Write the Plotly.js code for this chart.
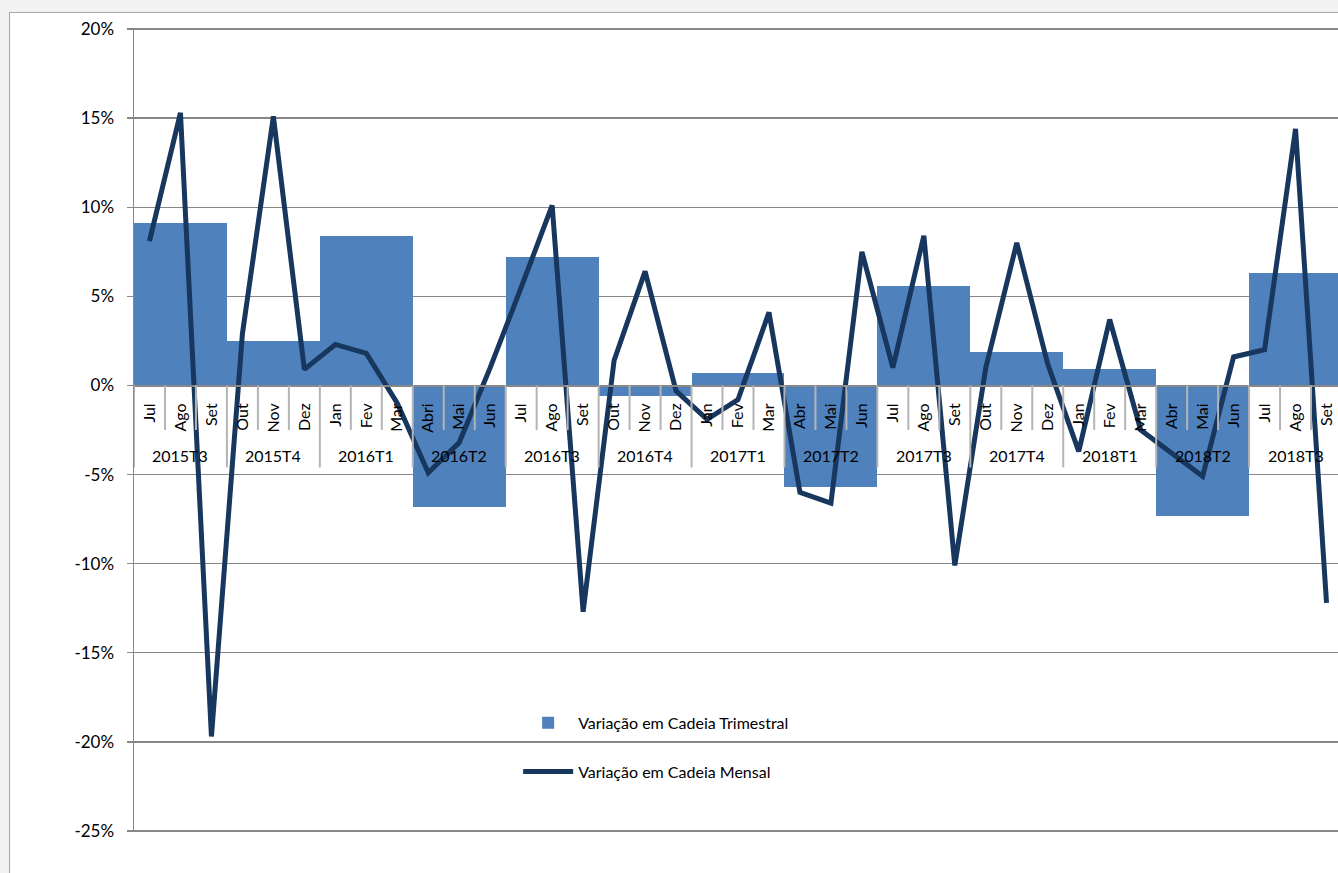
<!DOCTYPE html>
<html>
<head>
<meta charset="utf-8">
<script src="https://cdn.plot.ly/plotly-3.0.1.min.js"></script>
<style>
  html, body { margin: 0; padding: 0; background: #f2f2f2; overflow: hidden; width: 1338px; height: 873px; }
  #frame { position: absolute; left: 9px; top: 12px; width: 1400px; height: 900px; background: #ffffff; border: 1px solid #a6a6a6; }
  #chart { position: absolute; left: 0; top: 0; width: 1400px; height: 873px; }
</style>
</head>
<body>
<div id="frame"></div>
<div id="chart"></div>
<script>
const quarters = ['2015T3','2015T4','2016T1','2016T2','2016T3','2016T4','2017T1','2017T2','2017T3','2017T4','2018T1','2018T2','2018T3'];
const months = ['Jul','Ago','Set','Out','Nov','Dez','Jan','Fev','Mar','Abri','Mai','Jun',
                'Jul','Ago','Set','Out','Nov','Dez','Jan','Fev','Mar','Abr','Mai','Jun',
                'Jul','Ago','Set','Out','Nov','Dez','Jan','Fev','Mar','Abr','Mai','Jun',
                'Jul','Ago','Set'];
const quarterlyChange = [9.1, 2.5, 8.4, -6.8, 7.2, -0.6, 0.7, -5.7, 5.6, 1.9, 0.9, -7.3, 6.3];
const monthlyChange = [8.1, 15.3, -19.7, 2.9, 15.1, 0.9, 2.3, 1.8, -1.0, -4.9, -3.2, 1.0,
                       5.5, 10.1, -12.7, 1.4, 6.4, -0.3, -1.9, -0.8, 4.1, -6.0, -6.6, 7.5,
                       1.0, 8.4, -10.1, 1.0, 8.0, 1.2, -3.7, 3.7, -2.5, -3.8, -5.1, 1.6,
                       2.0, 14.4, -12.2];
const yTickVals = [-25, -20, -15, -10, -5, 0, 5, 10, 15, 20];
const yTickLabels = ['-25%', '-20%', '-15%', '-10%', '-5%', '0%', '5%', '10%', '15%', '20%'];

const monthsPerQuarter = 3;
const monthIdx = months.map((_, i) => i);
const quarterMid = quarters.map((_, q) => q * monthsPerQuarter + 1);

const yMin = -25, yMax = 20;
const rangePad = 0.06;
const gridGrey = '#878787';
const fontFam = 'Lato, "Open Sans", sans-serif';

const traces = [
  {
    type: 'bar',
    name: 'Variação em Cadeia Trimestral',
    x: quarterMid,
    y: quarterlyChange,
    width: quarters.map(() => monthsPerQuarter),
    marker: { color: '#4f81bd', line: { width: 0 } },
    legendgroup: 'a',
    hoverinfo: 'y'
  },
  {
    type: 'scatter',
    mode: 'lines',
    name: 'Variação em Cadeia Mensal',
    x: monthIdx,
    y: monthlyChange,
    line: { color: '#17375e', width: 5, shape: 'linear' },
    legendgroup: 'b',
    hoverinfo: 'y'
  }
];

const shapes = [];
for (let i = 0; i <= months.length; i++) {
  const isQuarter = (i % monthsPerQuarter) === 0;
  shapes.push({
    type: 'line', xref: 'x', yref: 'y',
    x0: i - 0.5, x1: i - 0.5,
    y0: 0, y1: isQuarter ? -4.6 : -2.5,
    line: { color: '#b4b4b4', width: 2 },
    layer: 'above'
  });
}

const annotations = quarters.map((q, k) => ({
  x: quarterMid[k], y: -3.95, xref: 'x', yref: 'y',
  text: q, showarrow: false,
  font: { family: fontFam, size: 16, color: '#000000' }
}));

const layout = {
  width: 1400, height: 873,
  margin: { l: 134, r: 58, t: 28, b: 41, pad: 0 },
  paper_bgcolor: 'rgba(0,0,0,0)',
  plot_bgcolor: '#ffffff',
  font: { family: fontFam, size: 16, color: '#000000' },
  showlegend: true,
  legend: {
    x: 0.318, y: 0.157, xanchor: 'left', yanchor: 'top',
    bgcolor: 'rgba(0,0,0,0)',
    font: { family: fontFam, size: 16, color: '#000000' },
    traceorder: 'grouped', tracegroupgap: 25,
    itemwidth: 50
  },
  bargap: 0,
  xaxis: {
    range: [-0.5, months.length - 0.5],
    tickmode: 'array', tickvals: monthIdx, ticktext: months,
    tickangle: -90,
    ticks: '',
    showgrid: false, zeroline: false,
    showline: true, linecolor: gridGrey, linewidth: 1.5,
    anchor: 'free',
    position: (0 - (yMin - rangePad)) / ((yMax + rangePad) - (yMin - rangePad)),
    tickfont: { family: fontFam, size: 16, color: '#000000' },
    ticklabelstandoff: 10,
    fixedrange: true
  },
  yaxis: {
    range: [yMin - rangePad, yMax + rangePad],
    tickmode: 'array', tickvals: yTickVals, ticktext: yTickLabels,
    showgrid: true, gridcolor: gridGrey, gridwidth: 1.5,
    zeroline: true, zerolinecolor: gridGrey, zerolinewidth: 1.5,
    showline: true, linecolor: gridGrey, linewidth: 1.5,
    ticks: 'outside', ticklen: 6, tickcolor: gridGrey, tickwidth: 1.5,
    tickfont: { family: fontFam, size: 17, color: '#000000' },
    ticklabelstandoff: 9,
    fixedrange: true
  },
  shapes: shapes,
  annotations: annotations
};

Plotly.newPlot('chart', traces, layout, { displayModeBar: false, staticPlot: true });
</script>
</body>
</html>
